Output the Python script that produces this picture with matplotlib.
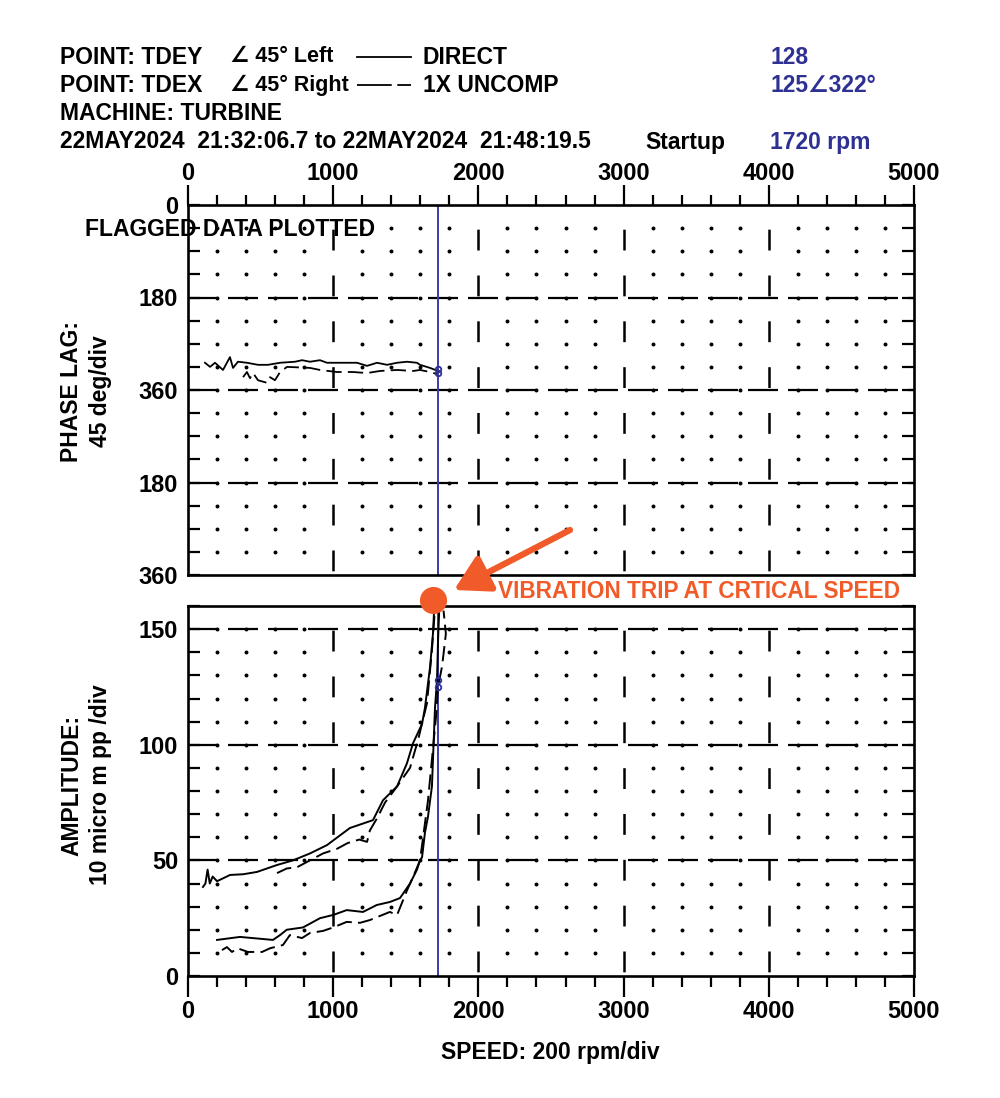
import numpy as np
import matplotlib
matplotlib.use("Agg")
import matplotlib.pyplot as plt
from matplotlib.lines import Line2D

plt.rcParams["font.family"] = ["Liberation Sans", "DejaVu Sans"]
plt.rcParams["font.weight"] = "bold"
plt.rcParams["lines.scale_dashes"] = False

# ---- data ----
phase_direct_rpm = [117, 152, 186, 241, 289, 310, 344, 406, 482, 551, 634, 737, 785, 840, 909,
                    957, 1026, 1164, 1233, 1302, 1371, 1440, 1508, 1577, 1598, 1667, 1722]
phase_direct_deg = [307, 315, 307, 321, 296, 317, 305, 307, 311, 311, 307, 305, 302, 305, 302,
                    307, 307, 307, 313, 307, 311, 307, 305, 307, 311, 317, 323]

phase_1x_rpm = [379, 406, 427, 448, 482, 544, 565, 599, 634, 682, 840, 909, 1026, 1136, 1233,
                1322, 1440, 1550, 1598, 1667, 1715]
phase_1x_deg = [335, 325, 337, 327, 341, 346, 335, 341, 325, 315, 317, 321, 325, 325, 327,
                323, 321, 323, 321, 325, 329]

upper_direct_rpm = [103, 120, 135, 150, 170, 200, 290, 380, 475, 613, 723, 840, 957, 1115,
                    1274, 1343, 1440, 1508, 1550, 1612, 1632, 1667, 1687, 1694]
upper_direct_amp = [38.5, 40, 46, 40, 43, 41, 43.7, 44, 45, 48, 50, 53, 56.6, 64,
                    67.4, 76, 82, 92, 100.7, 109, 116, 133.6, 148, 157]

upper_1x_rpm = [613, 680, 750, 840, 930, 1026, 1100, 1180, 1233, 1253, 1300, 1357, 1440,
                1529, 1584, 1646, 1680, 1700]
upper_1x_amp = [44.5, 46.5, 47, 50, 53, 55, 57.5, 59, 58, 63, 68, 75, 82,
                90, 102, 118, 141, 158]

lower_direct_rpm = [200, 358, 585, 634, 680, 792, 909, 1000, 1093, 1205, 1300, 1390, 1460,
                    1529, 1577, 1598, 1612, 1632, 1653, 1680, 1701, 1715, 1722, 1730]
lower_direct_amp = [15.6, 16.9, 15.6, 17.7, 20, 21, 25, 26.4, 28.5, 27.7, 30.7, 32, 33.7,
                    40, 46, 50, 51.4, 62, 69, 82, 116, 128, 145, 158]

lower_1x_rpm = [234, 268, 303, 340, 413, 510, 565, 654, 702, 785, 840, 930, 1000, 1093,
                1185, 1253, 1390, 1440, 1508, 1550, 1598, 1653, 1708, 1722, 1750, 1776, 1760]
lower_1x_amp = [11.2, 12.5, 10.4, 12, 10.4, 10.4, 12, 13.4, 17.7, 16.4, 18.6, 19.5, 21, 23.4,
                23, 24.2, 27.7, 26.4, 37, 42.8, 50, 76, 112, 125, 134, 148, 158]

current_rpm = 1720
current_direct = 128
current_1x_amp = 125
current_1x_phase = 322
trip_rpm = 1687
trip_amp = 162.5

phase_ticks = [0, 180, 360, 540, 720]
phase_tick_labels = ["0", "180", "360", "180", "360"]
amp_ticks = [0, 50, 100, 150]
speed_ticks = [0, 1000, 2000, 3000, 4000, 5000]

blue = "#2e3192"
orange = "#f15a29"
grid_dash = (0, (21.6, 7.2))
vgrid_dash = (30, (15, 18))
trace_dash = (0, (11, 4.5))
tick_fs = 17
text_fs = 16.5

fig = plt.figure(figsize=(10, 10.98), dpi=100)
W, H = 1000, 1098


def fx(px):
    return px / W


def fy(py):
    return 1 - py / H


ax_phase = fig.add_axes([fx(188), fy(575), fx(914) - fx(188), fy(205) - fy(575)])
ax_amp = fig.add_axes([fx(188), fy(976), fx(914) - fx(188), fy(606) - fy(976)])


def style_panel(ax, y_minor, y_major, y_lo, y_hi):
    ax.set_xlim(0, 5000)
    for s in ax.spines.values():
        s.set_linewidth(1.9)
    # dotted minor grid
    xs = [x for x in range(200, 5000, 200) if x % 1000 != 0]
    ys = [y for y in y_minor if y_lo < y < y_hi]
    gx, gy = np.meshgrid(xs, ys)
    ax.scatter(gx.ravel(), gy.ravel(), s=8, color="black", linewidths=0, zorder=1)
    # dashed major grid
    for y in y_major:
        if y_lo < y < y_hi:
            ax.axhline(y, color="black", lw=1.6, linestyle=grid_dash, zorder=1)
    for x in range(1000, 5000, 1000):
        ax.axvline(x, color="black", lw=1.8, linestyle=vgrid_dash, zorder=1)
    ax.set_yticks(y_minor, minor=True)
    ax.set_xticks(range(0, 5001, 200), minor=True)
    ax.tick_params(axis="y", which="both", direction="in", left=True, right=True,
                   length=8.5, width=1.6, labelsize=tick_fs, pad=7)
    ax.axvline(current_rpm, color="#3b3bb0", lw=1.4, zorder=2)


# ---- phase panel ----
style_panel(ax_phase, list(range(0, 721, 45)), [180, 360, 540], 0, 720)
ax_phase.set_ylim(720, 0)
ax_phase.set_yticks(phase_ticks)
ax_phase.set_yticklabels(phase_tick_labels, fontweight="bold")
ax_phase.set_xticks(speed_ticks)
ax_phase.set_xticklabels([str(t) for t in speed_ticks], fontweight="bold")
ax_phase.tick_params(axis="x", which="both", direction="out", top=True, bottom=False,
                     labeltop=True, labelbottom=False, labelsize=tick_fs, pad=0, width=1.6)
ax_phase.tick_params(axis="x", which="major", length=14.5)
ax_phase.tick_params(axis="x", which="minor", length=7)
ax_phase.plot(phase_direct_rpm, phase_direct_deg, color="black", lw=1.3, zorder=3)
ax_phase.plot(phase_1x_rpm, phase_1x_deg, color="black", lw=1.3, linestyle=trace_dash, zorder=3)
ax_phase.plot([current_rpm, current_rpm], [current_1x_phase - 3, current_1x_phase + 5], "o",
              ms=4, mfc="none", mec=blue, mew=1.3, zorder=4)

# ---- amplitude panel ----
style_panel(ax_amp, list(range(0, 161, 10)), [50, 100, 150], 0, 160)
ax_amp.set_ylim(0, 160)
ax_amp.set_yticks(amp_ticks)
ax_amp.set_yticklabels([str(t) for t in amp_ticks], fontweight="bold")
ax_amp.set_xticks(speed_ticks)
ax_amp.set_xticklabels([str(t) for t in speed_ticks], fontweight="bold")
ax_amp.tick_params(axis="x", which="both", direction="out", top=False, bottom=True,
                   labelsize=tick_fs, pad=2, width=1.6)
ax_amp.tick_params(axis="x", which="major", length=15)
ax_amp.tick_params(axis="x", which="minor", length=8)
ax_amp.plot(upper_direct_rpm, upper_direct_amp, color="black", lw=1.4, zorder=3)
ax_amp.plot(upper_1x_rpm, upper_1x_amp, color="black", lw=1.4, linestyle=trace_dash, zorder=3)
ax_amp.plot(lower_direct_rpm, lower_direct_amp, color="black", lw=1.4, zorder=3)
ax_amp.plot(lower_1x_rpm, lower_1x_amp, color="black", lw=1.4, linestyle=trace_dash, zorder=3)
ax_amp.plot([current_rpm, current_rpm], [current_direct, current_1x_amp], "o",
            ms=4, mfc="none", mec=blue, mew=1.3, zorder=4)
ax_amp.plot([trip_rpm], [trip_amp], "o", ms=18.5, color=orange, clip_on=False, zorder=6)

# ---- header ----
hdr = dict(fontsize=text_fs, fontweight="bold", va="center", ha="left")
ang = dict(hdr, fontsize=15.5)
fig.text(fx(60), fy(57), "POINT: TDEY", **hdr)
fig.text(fx(230), fy(57), "\u2220 45\u00b0 Left", **ang)
fig.text(fx(423), fy(57), "DIRECT", **hdr)
fig.text(fx(770), fy(57), "128", color=blue, **hdr)
fig.text(fx(60), fy(85), "POINT: TDEX", **hdr)
fig.text(fx(230), fy(85), "\u2220 45\u00b0 Right", **ang)
fig.text(fx(423), fy(85), "1X UNCOMP", **hdr)
fig.text(fx(770), fy(85), "125\u2220322\u00b0", color=blue, **hdr)
fig.text(fx(60), fy(113), "MACHINE: TURBINE", **hdr)
fig.text(fx(60), fy(142), "22MAY2024  21:32:06.7 to 22MAY2024  21:48:19.5", **hdr)
fig.text(fx(645), fy(142), "Startup", **hdr)
fig.text(fx(770), fy(142), "1720 rpm", color=blue, **hdr)
fig.add_artist(Line2D([fx(357), fx(411)], [fy(57), fy(57)], color="black", lw=1.3))
fig.add_artist(Line2D([fx(357), fx(411)], [fy(85), fy(85)], color="black", lw=1.3,
                      linestyle=(0, (25, 4, 10, 4))))

fig.text(fx(85), fy(229), "FLAGGED DATA PLOTTED", fontsize=text_fs, fontweight="bold",
         va="center", ha="left", zorder=10)

fig.text(fx(86), fy(391), "PHASE LAG:\n45 deg/div", fontsize=text_fs, fontweight="bold",
         rotation=90, ha="center", va="center", multialignment="center", linespacing=1.3)
fig.text(fx(86), fy(785), "AMPLITUDE:\n10 micro m pp /div", fontsize=text_fs, fontweight="bold",
         rotation=90, ha="center", va="center", multialignment="center", linespacing=1.3)
fig.text(fx(550), fy(1052), "SPEED: 200 rpm/div", fontsize=text_fs, fontweight="bold",
         ha="center", va="center")

# ---- annotation ----
fig.text(fx(498), fy(592), "VIBRATION TRIP AT CRTICAL SPEED", fontsize=16.3,
         fontweight="bold", color=orange, ha="left", va="center")
fig.add_artist(matplotlib.patches.FancyArrowPatch(
    (fx(570), fy(530)), (fx(454), fy(590)), transform=fig.transFigure,
    arrowstyle="-|>,head_length=14,head_width=8", mutation_scale=1.5,
    color=orange, lw=4.5, shrinkA=0, shrinkB=0))

fig.savefig("out.png", dpi=100)
